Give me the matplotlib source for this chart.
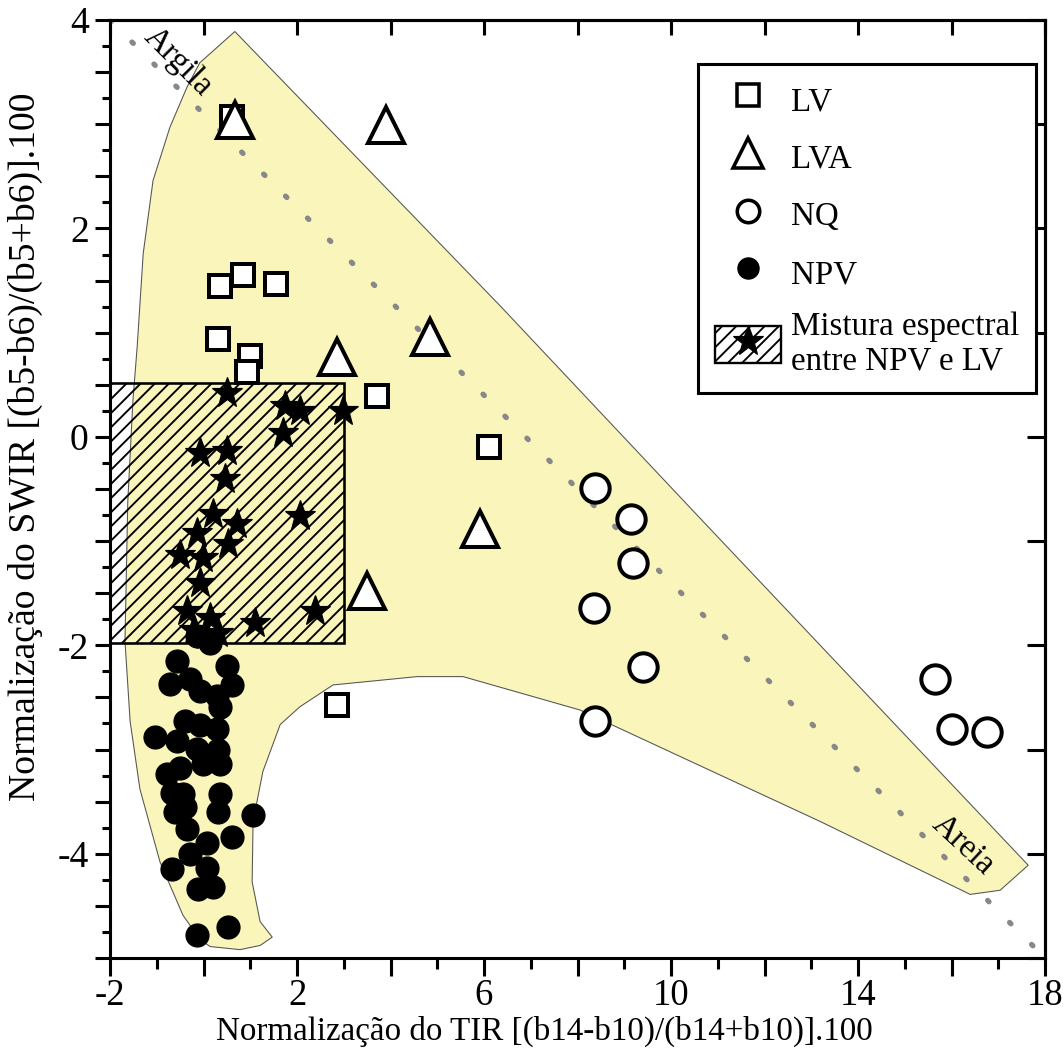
import numpy as np
import matplotlib
matplotlib.use("Agg")
import matplotlib.pyplot as plt
from matplotlib.patches import Polygon, Rectangle, Patch
from matplotlib.lines import Line2D
from matplotlib.legend_handler import HandlerTuple
from matplotlib.ticker import MultipleLocator, FuncFormatter

plt.rcParams['font.family'] = ['Liberation Serif', 'DejaVu Serif']
plt.rcParams['hatch.linewidth'] = 1.6

# ---- data ----
lv_x = [0.61, 0.35, 0.85, 1.55, 0.31, 1.00, 0.93, 3.71, 6.11, 2.86]
lv_y = [3.07, 1.45, 1.55, 1.47, 0.94, 0.78, 0.62, 0.39, -0.10, -2.57]

lva_x = [0.67, 3.90, 4.85, 2.86, 5.91, 3.50]
lva_y = [3.04, 2.99, 0.96, 0.77, -0.88, -1.48]

nq_x = [8.37, 9.14, 9.19, 8.35, 9.40, 8.37, 15.65, 16.01, 16.76]
nq_y = [-0.49, -0.79, -1.21, -1.64, -2.21, -2.73, -2.32, -2.80, -2.83]

npv_x = [-0.57, -0.72, -0.29, -0.08, 0.50, 0.61, 0.29, 0.35, 0.14, -0.14,
         -0.40, -0.08, 0.29, -1.04, -0.57, -0.14, 0.31, -0.01, 0.35, -0.78,
         -0.50, -0.67, -0.44, -0.61, -0.40, -0.35, 0.35, 0.31, 1.06, 0.61,
         0.08, -0.29, -0.67, 0.08, -0.12, 0.20, 0.52, -0.14]
npv_y = [-2.15, -2.37, -2.32, -2.44, -2.20, -2.38, -2.49, -2.59, -1.98, -1.91,
         -2.73, -2.76, -2.80, -2.88, -2.92, -2.99, -3.00, -3.14, -3.14, -3.23,
         -3.18, -3.42, -3.43, -3.60, -3.55, -3.76, -3.43, -3.60, -3.63, -3.84,
         -3.90, -4.00, -4.15, -4.14, -4.34, -4.32, -4.70, -4.78]

mix_x = [0.50, 1.74, 2.06, 2.98, 1.70, -0.08, 0.50, 0.46, 0.20, 2.06,
         0.72, -0.14, 0.52, -0.50, -0.01, -0.08, -0.35, 1.10, 2.39, 0.14,
         -0.20, 0.05, 0.30]
mix_y = [0.42, 0.30, 0.25, 0.25, 0.04, -0.15, -0.14, -0.40, -0.74, -0.76,
         -0.84, -0.92, -1.03, -1.13, -1.16, -1.40, -1.67, -1.79, -1.67, -1.74,
         -1.85, -1.90, -1.88]

# mixing box and envelope drawn in the figure
box_x0, box_x1 = -2.0, 3.0
box_y0, box_y1 = -1.98, 0.52

env_x = [0.67, 6.34, 10.62, 17.64, 17.04, 16.40, 13.19, 8.05, 5.55, 4.57,
         2.77, 2.06, 1.64, 1.27, 1.06, 1.04, 1.21, 1.47, 1.21, 0.78,
         0.14, -0.08, -0.44, -0.93, -1.36, -1.57, -1.68, -1.62, -1.51, -1.42,
         -1.29, -1.08, -0.72, -0.35, -0.08]
env_y = [3.89, 1.26, -0.78, -4.11, -4.35, -4.39, -3.69, -2.62, -2.30, -2.30,
         -2.38, -2.59, -2.76, -3.21, -3.69, -4.27, -4.65, -4.80, -4.88, -4.92,
         -4.89, -4.82, -4.59, -4.08, -3.38, -2.73, -1.96, -0.62, 0.35, 0.86,
         1.76, 2.46, 2.97, 3.36, 3.59]

line_x = [-2, 18]
line_y = [4, -5]

# ---- figure ----
fig = plt.figure(figsize=(1063 / 85, 1061 / 85), dpi=85)
ax = fig.add_axes([0.1035, 0.0971, 0.8796, 0.884])
ax.set_xlim(-2, 18)
ax.set_ylim(-5, 4)

ax.add_patch(Polygon(np.column_stack([env_x, env_y]), closed=True,
                     facecolor='#f9f5bb', edgecolor='#555555', lw=0.9, zorder=1))
ax.plot(line_x, line_y, color='#888888', lw=4.5, ls=(0, (0.35, 5.5)),
        dash_capstyle='round', zorder=2)
ax.add_patch(Rectangle((box_x0, box_y0), box_x1 - box_x0, box_y1 - box_y0,
                       facecolor='none', edgecolor='black', hatch='//',
                       lw=2.2, zorder=3))

ax.plot(lv_x, lv_y, 's', ms=19, mfc='white', mec='black', mew=3.4, zorder=5)
ax.plot(lva_x, lva_y, '^', ms=30, mfc='white', mec='black', mew=3.4, zorder=6)
ax.plot(nq_x, nq_y, 'o', ms=24, mfc='white', mec='black', mew=3.4, zorder=5)
ax.plot(npv_x, npv_y, 'o', ms=19.5, color='black', zorder=5)
ax.plot(mix_x, mix_y, '*', ms=27, color='black', zorder=6)

ax.text(-0.55, 3.6, 'Argila', rotation=-45, fontsize=28,
        ha='center', va='center', rotation_mode='anchor', zorder=7)
ax.text(16.25, -3.92, 'Areia', rotation=-43, fontsize=28,
        ha='center', va='center', rotation_mode='anchor', zorder=7)

# ---- axes styling ----
for s in ax.spines.values():
    s.set_linewidth(2.6)

ax.xaxis.set_major_locator(MultipleLocator(2))
ax.xaxis.set_minor_locator(MultipleLocator(1))
ax.yaxis.set_major_locator(MultipleLocator(0.5))
ax.yaxis.set_minor_locator(MultipleLocator(0.25))

x_labels = [-2, 2, 6, 10, 14, 18]
y_labels = [-4, -2, 0, 2, 4]
ax.xaxis.set_major_formatter(FuncFormatter(
    lambda v, p: f'{v:g}' if round(v) in x_labels and abs(v - round(v)) < 1e-6 else ''))
ax.yaxis.set_major_formatter(FuncFormatter(
    lambda v, p: f'{v:g}' if round(v) in y_labels and abs(v - round(v)) < 1e-6 else ''))

ax.tick_params(axis='x', which='major', direction='out', length=15, width=2.6,
               labelsize=31, pad=2)
ax.tick_params(axis='x', which='minor', direction='out', length=9, width=2.6)
ax.tick_params(axis='y', which='major', direction='out', length=13, width=2.6,
               labelsize=32, pad=5)
ax.tick_params(axis='y', which='minor', direction='out', length=7, width=2.6)

top = ax.secondary_xaxis('top')
top.xaxis.set_major_locator(MultipleLocator(2))
top.tick_params(direction='in', length=13, width=2.6, labeltop=False)
right = ax.secondary_yaxis('right')
right.yaxis.set_major_locator(MultipleLocator(1))
right.tick_params(direction='in', length=15, width=2.6, labelright=False)
for sec in (top, right):
    for s in sec.spines.values():
        s.set_linewidth(2.6)

ax.set_xlabel('Normalização do TIR [(b14-b10)/(b14+b10)].100', fontsize=28)
ax.set_ylabel('Normalização do SWIR [(b5-b6)/(b5+b6)].100', fontsize=32)
ax.xaxis.set_label_coords(0.465, -0.062)
ax.yaxis.set_label_coords(-0.072, 0.545)

# ---- legend ----
h_lv = Line2D([], [], ls='none', marker='s', ms=18, mfc='white', mec='black', mew=3)
h_lva = Line2D([], [], ls='none', marker='^', ms=25, mfc='white', mec='black', mew=3)
h_nq = Line2D([], [], ls='none', marker='o', ms=19, mfc='white', mec='black', mew=3)
h_npv = Line2D([], [], ls='none', marker='o', ms=18, color='black')
h_box = Patch(facecolor='white', edgecolor='black', hatch='//', lw=2)
h_star = Line2D([], [], ls='none', marker='*', ms=27, color='black')
leg = ax.legend([h_lv, h_lva, h_nq, h_npv, (h_box, h_star)],
                ['LV', 'LVA', 'NQ', 'NPV', 'Mistura espectral\nentre NPV e LV'],
                handler_map={tuple: HandlerTuple(ndivide=1, pad=0)},
                loc='upper right', bbox_to_anchor=(0.99, 0.953),
                fontsize=28, frameon=True, fancybox=False, framealpha=1,
                edgecolor='black', handlelength=2.0, handleheight=1.35,
                labelspacing=0.62, borderpad=0.5, handletextpad=0.3,
                borderaxespad=0)
leg.get_frame().set_linewidth(2.6)
leg.set_zorder(10)

fig.savefig('out.png', dpi=85)
